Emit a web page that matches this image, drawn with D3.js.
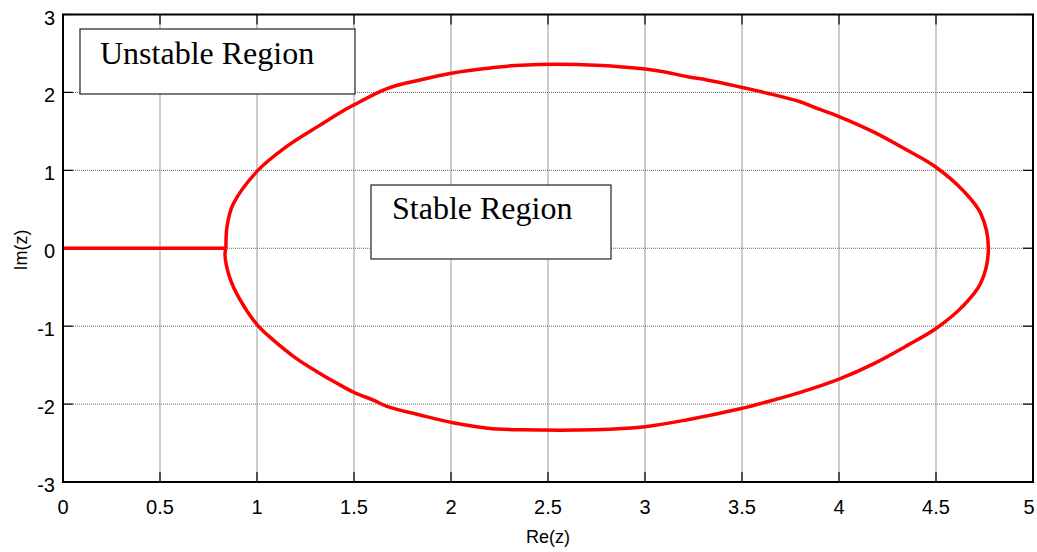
<!DOCTYPE html>
<html>
<head>
<meta charset="utf-8">
<script src="https://cdn.jsdelivr.net/npm/d3@7"></script>
<style>
  body { margin: 0; background: #fff; }
  svg { display: block; }
</style>
</head>
<body>
<svg id="chart" width="1037" height="552"></svg>
<script>
// stability boundary
const boundaryRe = [0.84, 0.845, 0.876, 1.005, 1.155, 1.325, 1.455, 1.5, 1.67, 1.84, 2.01, 2.19, 2.36,
    2.75, 3.0, 3.11, 3.22, 3.32, 3.49, 3.63, 3.80, 3.87, 4.0, 4.18, 4.35, 4.5, 4.64, 4.73, 4.77,
    4.73, 4.64, 4.5, 4.35, 4.18, 4.0, 3.8, 3.63, 3.49, 3.22, 3.0, 2.74,
    2.36, 2.19, 2.01, 1.84, 1.67, 1.6, 1.5, 1.41, 1.32, 1.2, 1.08, 1.0, 0.91, 0.86, 0.835, 0.84];
const boundaryIm = [0, 0.27, 0.56, 1.0, 1.31, 1.58, 1.78, 1.84, 2.05, 2.16, 2.25, 2.31, 2.35,
    2.35, 2.30, 2.26, 2.20, 2.16, 2.07, 1.99, 1.88, 1.81, 1.69, 1.49, 1.26, 1.04, 0.74, 0.45, 0,
    -0.45, -0.74, -1.03, -1.25, -1.48, -1.68, -1.85, -1.97, -2.06, -2.2, -2.29, -2.33,
    -2.33, -2.31, -2.24, -2.14, -2.03, -1.95, -1.85, -1.73, -1.6, -1.41, -1.17, -0.98, -0.65, -0.38, -0.08, 0];
// real-axis segment
const tailRe = [0, 0.84];
const tailIm = [0, 0];

const xTicks = [0, 0.5, 1, 1.5, 2, 2.5, 3, 3.5, 4, 4.5, 5];
const yTicks = [-3, -2, -1, 0, 1, 2, 3];

const svg = d3.select('#chart');
const mLeft = 63, mRight = 1033, mTop = 14.5, mBottom = 482;

const x = d3.scaleLinear().domain([0, 5]).range([mLeft, mRight]);
const y = d3.scaleLinear().domain([-3, 3]).range([mBottom, mTop]);

// grid
svg.append('g').selectAll('line')
    .data(xTicks.slice(1, -1))
    .enter().append('line')
    .attr('x1', d => x(d)).attr('x2', d => x(d))
    .attr('y1', mTop).attr('y2', mBottom)
    .style('stroke', '#999').style('stroke-width', 1);

svg.append('g').selectAll('line')
    .data(yTicks.slice(1, -1))
    .enter().append('line')
    .attr('x1', mLeft).attr('x2', mRight)
    .attr('y1', d => y(d)).attr('y2', d => y(d))
    .style('stroke', '#666').style('stroke-width', 1).style('stroke-dasharray', '1,1');

// inward ticks on all four sides
const tickLen = 10;
const tg = svg.append('g').style('stroke', '#000').style('stroke-width', 1.2);
xTicks.forEach(d => {
    tg.append('line').attr('x1', x(d)).attr('x2', x(d)).attr('y1', mBottom).attr('y2', mBottom - tickLen);
    tg.append('line').attr('x1', x(d)).attr('x2', x(d)).attr('y1', mTop).attr('y2', mTop + tickLen);
});
yTicks.forEach(d => {
    tg.append('line').attr('x1', mLeft).attr('x2', mLeft + tickLen).attr('y1', y(d)).attr('y2', y(d));
    tg.append('line').attr('x1', mRight).attr('x2', mRight - tickLen).attr('y1', y(d)).attr('y2', y(d));
});

// tick labels (last one nudged in so it is not cut by the page edge)
svg.append('g').selectAll('text')
    .data(xTicks)
    .enter().append('text')
    .attr('x', d => Math.min(x(d), 1029))
    .attr('y', 514)
    .attr('text-anchor', 'middle')
    .style('font-family', '"Liberation Sans", Arial, sans-serif')
    .style('font-size', '20px')
    .text(d => d);

svg.append('g').selectAll('text')
    .data(yTicks)
    .enter().append('text')
    .attr('x', 55)
    .attr('y', d => y(d) + 3)
    .attr('dy', '0.35em')
    .attr('text-anchor', 'end')
    .style('font-family', '"Liberation Sans", Arial, sans-serif')
    .style('font-size', '20px')
    .text(d => d);

// axis titles
svg.append('text')
    .attr('x', (mLeft + mRight) / 2).attr('y', 543)
    .attr('text-anchor', 'middle')
    .style('font-family', '"Liberation Sans", Arial, sans-serif')
    .style('font-size', '18px')
    .text('Re(z)');

svg.append('text')
    .attr('transform', 'translate(27,250) rotate(-90)')
    .attr('text-anchor', 'middle')
    .style('font-family', '"Liberation Sans", Arial, sans-serif')
    .style('font-size', '18px')
    .text('Im(z)');

// curves
const line = d3.line().x(d => x(d[0])).y(d => y(d[1]));
svg.append('path')
    .attr('d', line(tailRe.map((r, i) => [r, tailIm[i]])))
    .style('fill', 'none').style('stroke', '#ff0000').style('stroke-width', 3.5);
svg.append('path')
    .attr('d', line.curve(d3.curveCatmullRom)(boundaryRe.map((r, i) => [r, boundaryIm[i]])))
    .style('fill', 'none').style('stroke', '#ff0000').style('stroke-width', 3.5)
    .style('stroke-linejoin', 'round');

// frame
svg.append('rect')
    .attr('x', mLeft).attr('y', mTop)
    .attr('width', mRight - mLeft).attr('height', mBottom - mTop)
    .style('fill', 'none').style('stroke', '#000').style('stroke-width', 2);

// annotation boxes
function note(bx, by, bw, bh, tx, ty, label) {
    svg.append('rect')
        .attr('x', bx).attr('y', by).attr('width', bw).attr('height', bh)
        .style('fill', '#fff').style('stroke', '#222').style('stroke-width', 1.2);
    svg.append('text')
        .attr('x', tx).attr('y', ty)
        .style('font-family', '"Liberation Serif", "Times New Roman", serif')
        .style('font-size', '32px')
        .text(label);
}
note(80, 29, 275, 65, 100, 64, 'Unstable Region');
note(371, 185, 240, 74, 392, 219, 'Stable Region');
</script>
</body>
</html>
